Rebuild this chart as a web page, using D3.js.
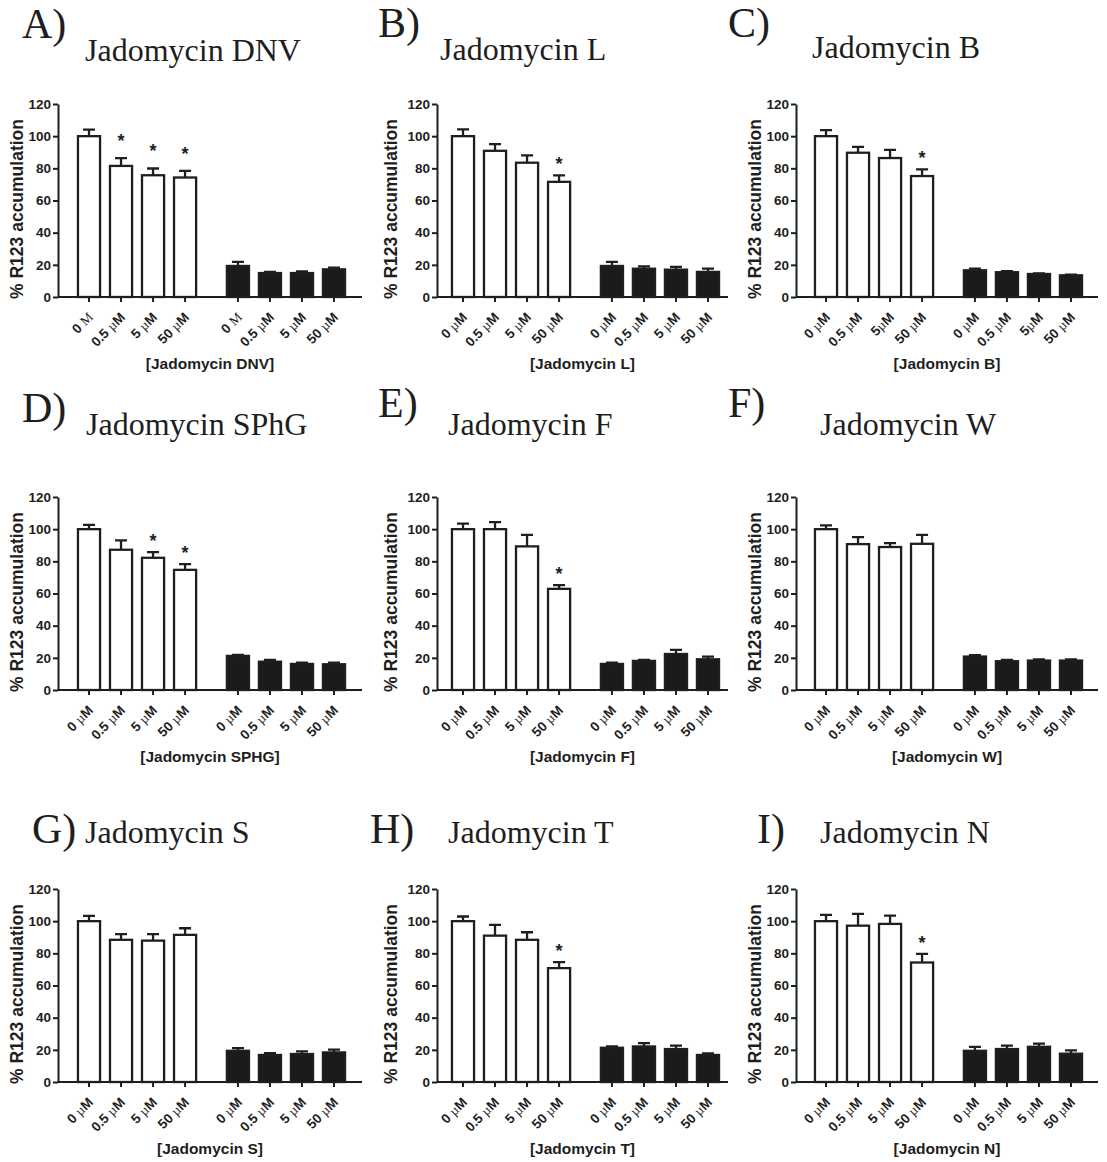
<!DOCTYPE html>
<html>
<head>
<meta charset="utf-8">
<script src="https://cdn.jsdelivr.net/npm/d3@7"></script>
<style>
  body { margin: 0; background: #fff; }
  svg text { fill: #1e1e1e; }
</style>
</head>
<body>
<svg id="fig" width="1107" height="1162"></svg>
<script>
// panel order A..I, left to right, top to bottom
var letters   = ["A)", "B)", "C)", "D)", "E)", "F)", "G)", "H)", "I)"];
var compounds = ["Jadomycin DNV", "Jadomycin L", "Jadomycin B", "Jadomycin SPhG", "Jadomycin F",
                 "Jadomycin W", "Jadomycin S", "Jadomycin T", "Jadomycin N"];
var xTitles   = ["[Jadomycin DNV]", "[Jadomycin L]", "[Jadomycin B]", "[Jadomycin SPHG]", "[Jadomycin F]",
                 "[Jadomycin W]", "[Jadomycin S]", "[Jadomycin T]", "[Jadomycin N]"];
var groups    = ["open", "filled"];
var doses     = ["0", "0.5", "5", "50"];

// tick labels; text in {} is set in the serif face
var doseLabels  = ["0 {µ}M", "0.5 {µ}M", "5 {µ}M", "50 {µ}M"];
var doseLabelsA = ["0 {M}", "0.5 {µ}M", "5 {µ}M", "50 {µ}M"];
var doseLabelsC = ["0 {µ}M", "0.5 {µ}M", "5{µ}M", "50 {µ}M"];

var yTicks = [0, 20, 40, 60, 80, 100, 120];

var openMeans = [
    [100, 81.5, 75.7, 74.3],
    [100, 90.9, 83.5, 71.6],
    [100, 89.7, 86.4, 75.2],
    [100, 87.2, 82.2, 74.7],
    [100, 100, 89.3, 62.9],
    [100, 90.7, 88.9, 90.9],
    [100, 88.4, 87.9, 91.5],
    [100, 91.0, 88.4, 70.8],
    [100, 97.2, 98.3, 74.3]
];
var openErr = [
    [4.1, 4.8, 4.2, 4.1],
    [4.2, 4.2, 4.5, 4.0],
    [3.8, 3.7, 5.1, 4.1],
    [2.7, 5.8, 3.5, 3.6],
    [3.4, 4.4, 7.2, 2.3],
    [2.3, 4.4, 2.4, 5.6],
    [3.3, 3.5, 4.0, 4.1],
    [2.9, 6.7, 4.7, 3.7],
    [3.9, 7.3, 5.1, 5.4]
];
var filledMeans = [
    [19.3, 14.9, 14.9, 17.2],
    [19.3, 17.6, 17.0, 15.6],
    [16.6, 15.4, 14.3, 13.5],
    [21.2, 17.6, 16.2, 16.0],
    [16.2, 18.1, 22.4, 19.1],
    [20.8, 17.9, 18.3, 18.3],
    [19.4, 16.8, 17.4, 18.4],
    [21.3, 22.1, 20.5, 16.8],
    [19.4, 20.5, 21.9, 17.6]
];
var filledErr = [
    [2.5, 0.7, 1.0, 1.1],
    [2.5, 1.5, 1.7, 2.0],
    [1.0, 0.6, 0.4, 0.4],
    [0.6, 1.1, 0.8, 1.0],
    [0.8, 0.6, 2.5, 1.7],
    [0.8, 0.8, 0.8, 0.8],
    [1.7, 1.2, 1.6, 1.7],
    [0.8, 2.1, 2.1, 1.0],
    [2.5, 2.1, 1.9, 2.1]
];
// significance (*) over the open bars
var starFlags = [
    [0, 1, 1, 1],
    [0, 0, 0, 1],
    [0, 0, 0, 1],
    [0, 0, 1, 1],
    [0, 0, 0, 1],
    [0, 0, 0, 0],
    [0, 0, 0, 0],
    [0, 0, 0, 1],
    [0, 0, 0, 1]
];

// layout
var colAxisX  = [58, 437, 796];
var colAxisX2 = [362, 728, 1098];
var colBarsL  = [73, 447, 810];
var rowBase   = [297, 690, 1082];
var plotH = 193, barsW = 277;
var letterPos = [[22, 38], [378, 37], [728, 37], [22, 422], [378, 417], [728, 417], [32, 843], [370, 843], [757, 843]];
var titlePos  = [[85, 61], [440, 60], [812, 58], [86, 435], [448, 435], [820, 435], [85, 843], [448, 843], [820, 843]];
var yLabelX   = [17, 391, 755];

var sans = "'Liberation Sans', Arial, sans-serif";
var serif = "'Liberation Serif', 'Times New Roman', serif";
var ink = "#1e1e1e";

var svg = d3.select("#fig");

function richLabel(sel, str) {
    str.split(/(\{[^}]*\})/).forEach(function(part) {
        if (!part) return;
        if (part[0] == "{") {
            sel.append("tspan").attr("font-family", serif).attr("font-weight", "normal")
                .text(part.slice(1, -1));
        } else {
            sel.append("tspan").text(part);
        }
    });
}

letters.forEach(function(letter, p) {
    var col = p % 3, row = Math.floor(p / 3);
    var ax = colAxisX[col], ax2 = colAxisX2[col], y0 = rowBase[row];
    var labels = p == 0 ? doseLabelsA : (p == 2 ? doseLabelsC : doseLabels);

    var y = d3.scaleLinear().domain([0, 120]).range([y0, y0 - plotH]);
    var xg = d3.scaleBand().domain(groups).range([colBarsL[col], colBarsL[col] + barsW]).paddingInner(0.14);
    var xd = d3.scaleBand().domain(doses).range([0, xg.bandwidth()]).paddingInner(0.31).paddingOuter(0.155);

    svg.append("text")
        .attr("x", letterPos[p][0]).attr("y", letterPos[p][1])
        .attr("font-family", serif).attr("font-size", 42)
        .text(letter);
    svg.append("text")
        .attr("x", titlePos[p][0]).attr("y", titlePos[p][1])
        .attr("font-family", serif).attr("font-size", 32)
        .text(compounds[p]);

    var g = svg.append("g");

    var bars = [];
    groups.forEach(function(grp, gi) {
        var means = gi == 0 ? openMeans[p] : filledMeans[p];
        var errs = gi == 0 ? openErr[p] : filledErr[p];
        doses.forEach(function(d, i) {
            bars.push({grp: grp, dose: d, mean: means[i], err: errs[i], star: gi == 0 && starFlags[p][i],
                       label: labels[i]});
        });
    });
    var cx = function(d) { return xg(d.grp) + xd(d.dose) + xd.bandwidth() / 2; };

    // error bars (upper only)
    g.selectAll(".err").data(bars).enter().append("path")
        .attr("d", function(d) {
            var c = cx(d), t = y(d.mean + d.err);
            return "M" + c + "," + y(d.mean) + "V" + t + "M" + (c - 6) + "," + t + "H" + (c + 6);
        })
        .attr("stroke", ink).attr("stroke-width", 2.3).attr("fill", "none");

    g.selectAll(".bar").data(bars).enter().append("rect")
        .attr("x", function(d) { return xg(d.grp) + xd(d.dose); })
        .attr("width", xd.bandwidth())
        .attr("y", function(d) { return y(d.mean); })
        .attr("height", function(d) { return y(0) - y(d.mean); })
        .attr("fill", function(d) { return d.grp == "open" ? "#fff" : "#1b1b1b"; })
        .attr("stroke", ink).attr("stroke-width", 2.3);

    g.selectAll(".star").data(bars.filter(function(d) { return d.star; })).enter().append("text")
        .attr("x", cx)
        .attr("y", function(d) { return y(d.mean + d.err) - (p == 0 ? 11 : 5); })
        .attr("text-anchor", "middle")
        .attr("font-family", sans).attr("font-weight", "bold").attr("font-size", 18)
        .text("*");

    // y axis
    var ya = g.append("g").attr("transform", "translate(" + ax + ",0)")
        .call(d3.axisLeft(y).tickValues(yTicks).tickSize(5).tickSizeOuter(0).tickPadding(2));
    ya.select(".domain").attr("stroke", ink).attr("stroke-width", 2);
    ya.selectAll(".tick line").attr("stroke", ink).attr("stroke-width", 2);
    ya.selectAll(".tick text").attr("font-family", sans).attr("font-weight", "bold")
        .attr("font-size", 13.5).attr("fill", ink);

    // x axis
    g.append("line").attr("x1", ax).attr("x2", ax2).attr("y1", y0).attr("y2", y0)
        .attr("stroke", ink).attr("stroke-width", 2);
    g.selectAll(".xt").data(bars).enter().append("line")
        .attr("x1", cx).attr("x2", cx).attr("y1", y0).attr("y2", y0 + 5)
        .attr("stroke", ink).attr("stroke-width", 2);
    g.selectAll(".xl").data(bars).enter().append("text")
        .attr("transform", function(d) { return "translate(" + (cx(d) + 5) + "," + (y0 + 21) + ") rotate(-45)"; })
        .attr("text-anchor", "end")
        .attr("font-family", sans).attr("font-weight", "bold").attr("font-size", 13.5)
        .each(function(d) { richLabel(d3.select(this), d.label); });

    g.append("text")
        .attr("x", (ax + ax2) / 2).attr("y", y0 + 72)
        .attr("text-anchor", "middle")
        .attr("font-family", sans).attr("font-weight", "bold").attr("font-size", 15.5)
        .text(xTitles[p]);

    g.append("text")
        .attr("transform", "translate(" + (yLabelX[col] + 6) + "," + (y0 - 88) + ") rotate(-90)")
        .attr("text-anchor", "middle")
        .attr("font-family", sans).attr("font-weight", "bold").attr("font-size", 17.5)
        .text("% R123 accumulation");
});
</script>
</body>
</html>
